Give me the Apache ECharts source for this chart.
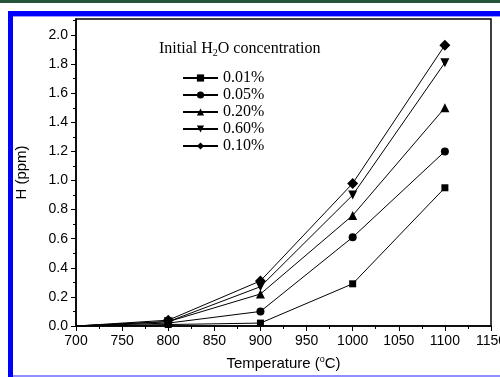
<!DOCTYPE html>
<html>
<head>
<meta charset="utf-8">
<script src="https://cdn.jsdelivr.net/npm/echarts@6/dist/echarts.min.js"></script>
<style>
  html, body { margin: 0; padding: 0; background: #fff; }
  #chart { width: 500px; height: 377px; }
</style>
</head>
<body>
<div id="chart"></div>
<script>
// Temperature points (°C)
const temperatures = [700, 800, 900, 1000, 1100];

// H content (ppm) for each initial H2O concentration
const h001 = [0, 0.01, 0.02, 0.29, 0.95];
const h005 = [0, 0.02, 0.10, 0.61, 1.20];
const h020 = [0, 0.03, 0.22, 0.76, 1.50];
const h060 = [0, 0.03, 0.27, 0.90, 1.81];
const h010 = [0, 0.04, 0.31, 0.98, 1.93];

const seriesNames = ['0.01%', '0.05%', '0.20%', '0.60%', '0.10%'];
const xTicks = [700, 750, 800, 850, 900, 950, 1000, 1050, 1100, 1150];
const yTicks = [0.0, 0.2, 0.4, 0.6, 0.8, 1.0, 1.2, 1.4, 1.6, 1.8, 2.0];

const symbols = [
  { symbol: 'rect', size: 7, rotate: 0 },
  { symbol: 'circle', size: 8, rotate: 0 },
  { symbol: 'triangle', size: 9, rotate: 0 },
  { symbol: 'triangle', size: 9, rotate: 180 },
  { symbol: 'diamond', size: 11, rotate: 0 }
];
const values = [h001, h005, h020, h060, h010];

function pairs(ys) {
  return temperatures.map((t, i) => {
    const item = { value: [t, ys[i]] };
    if (i === 0) item.symbol = 'none';
    return item;
  });
}

const chart = echarts.init(document.getElementById('chart'), null, { renderer: 'canvas' });

const series = seriesNames.map((name, k) => ({
  name: name,
  type: 'line',
  data: pairs(values[k]),
  symbol: symbols[k].symbol,
  symbolSize: symbols[k].size,
  symbolRotate: symbols[k].rotate,
  lineStyle: { color: '#000', width: 1 },
  itemStyle: { color: '#000' },
  z: 3 + k,
  animation: false
}));

const sans = '"Liberation Sans", Arial, sans-serif';
const serif = '"Liberation Serif", "Times New Roman", serif';

chart.setOption({
  animation: false,
  backgroundColor: '#fff',
  graphic: [
    { type: 'rect', shape: { x: 0, y: 0, width: 500, height: 3 }, style: { fill: '#24553a' } },
    { type: 'rect', shape: { x: 8, y: 11, width: 492, height: 5 }, style: { fill: '#0000ff' } },
    { type: 'rect', shape: { x: 8, y: 16, width: 492, height: 1 }, style: { fill: '#9a9aff' } },
    { type: 'rect', shape: { x: 8, y: 11, width: 5, height: 366 }, style: { fill: '#0000ff' } },
    { type: 'rect', shape: { x: 13, y: 375, width: 487, height: 2 }, style: { fill: '#8f8fff' } }
  ],
  title: {
    text: 'Initial H{sub|2}O concentration',
    left: 154,
    top: 35,
    textStyle: {
      fontFamily: serif, fontSize: 16, fontWeight: 'normal', color: '#000',
      rich: {
        sub: { fontFamily: serif, fontSize: 10, color: '#000', verticalAlign: 'bottom', padding: [8, 0, 0, 0] }
      }
    }
  },
  legend: {
    orient: 'vertical',
    left: 177,
    top: 65,
    itemWidth: 35,
    itemHeight: 9,
    itemGap: 1,
    textStyle: { fontFamily: serif, fontSize: 16, color: '#000', lineHeight: 16 },
    data: seriesNames
  },
  grid: {
    left: 76, right: 9, top: 19, bottom: 51,
    outerBoundsMode: 'none',
    show: true, borderColor: '#000', borderWidth: 1.5,
    containLabel: false
  },
  xAxis: {
    type: 'value',
    min: 700, max: 1150, interval: 50,
    name: 'Temperature ({sup|o}C)',
    nameLocation: 'middle',
    nameGap: 29,
    nameTextStyle: {
      fontFamily: sans, fontSize: 15, color: '#000',
      rich: { sup: { fontFamily: sans, fontSize: 9, color: '#000', verticalAlign: 'top', padding: [0, 0, 8, 0] } }
    },
    axisLine: { lineStyle: { color: '#000', width: 1.5 } },
    axisTick: { length: 5, lineStyle: { color: '#000' } },
    minorTick: { show: true, splitNumber: 2, length: 3, lineStyle: { color: '#000' } },
    splitLine: { show: false },
    axisLabel: {
      fontFamily: sans, fontSize: 14, color: '#000', margin: 8,
      formatter: v => (xTicks.indexOf(v) >= 0 ? String(v) : '')
    }
  },
  yAxis: {
    type: 'value',
    min: 0, max: 2.11, interval: 0.2,
    name: 'H (ppm)',
    nameLocation: 'middle',
    nameGap: 47,
    nameTextStyle: { fontFamily: sans, fontSize: 15, color: '#000' },
    axisLine: { show: true, lineStyle: { color: '#000', width: 1.5 } },
    axisTick: { show: true, length: 5, customValues: yTicks, lineStyle: { color: '#000' } },
    minorTick: { show: true, splitNumber: 2, length: 3, lineStyle: { color: '#000' } },
    splitLine: { show: false },
    axisLabel: {
      fontFamily: sans, fontSize: 14, color: '#000', margin: 8,
      formatter: v => {
        const hit = yTicks.find(t => Math.abs(t - v) < 1e-6);
        return hit === undefined ? '' : hit.toFixed(1);
      }
    }
  },
  series: series
});
</script>
</body>
</html>
